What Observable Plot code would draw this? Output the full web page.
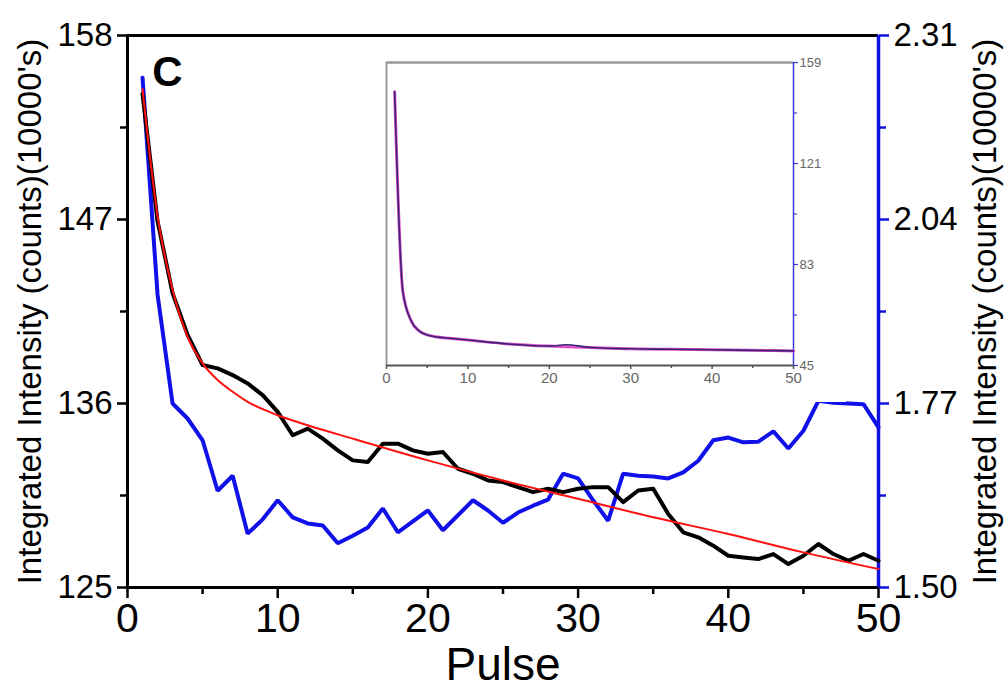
<!DOCTYPE html>
<html>
<head>
<meta charset="utf-8">
<script src="https://cdn.jsdelivr.net/npm/d3@7"></script>
<script src="https://cdn.jsdelivr.net/npm/@observablehq/plot@0.6"></script>
<style>
  body { margin: 0; background: #fff; }
  #wrap { position: relative; width: 1007px; height: 691px; overflow: hidden; }
  #inset { position: absolute; left: 376px; top: 52px; }
</style>
</head>
<body>
<div id="wrap"><div id="main"></div><div id="inset"></div></div>
<script>
// ---- data ----
const pulse = [1,2,3,4,5,6,7,8,9,10,11,12,13,14,15,16,17,18,19,20,21,22,23,24,25,26,27,28,29,30,31,32,33,34,35,36,37,38,39,40,41,42,43,44,45,46,47,48,49,50];
const blackLeft = [154.5,146.9,142.6,140.1,138.3,138.1,137.7,137.2,136.5,135.5,134.1,134.5,133.9,133.2,132.6,132.5,133.6,133.6,133.2,133.0,133.1,132.1,131.8,131.4,131.3,131.0,130.7,130.9,130.7,130.9,131.0,131.0,130.1,130.8,130.9,129.4,128.3,128.0,127.5,126.9,126.8,126.7,127.0,126.4,126.9,127.6,127.0,126.6,127.0,126.6];
const blueRight = [2.248,1.93,1.77,1.748,1.716,1.642,1.664,1.579,1.60,1.628,1.603,1.594,1.591,1.565,1.576,1.588,1.616,1.581,1.597,1.613,1.584,1.606,1.628,1.613,1.595,1.61,1.62,1.629,1.667,1.66,1.628,1.598,1.667,1.664,1.663,1.66,1.669,1.686,1.716,1.72,1.713,1.714,1.729,1.704,1.73,1.774,1.771,1.77,1.769,1.735];
const fitPulse = [1,2,3,4,5,6,7,8,10,12,15,20,25,30,35,40,45,50];
const fitLeft = [154.8,147.2,142.8,140.0,138.4,137.4,136.7,136.1,135.3,134.7,133.9,132.6,131.4,130.3,129.2,128.2,127.1,126.1];

const insetPulse = [1,2,3,4,5,6,8,10,15,20,22,25,30,35,40,45,50];
const insetPink = [148,73,62,58,56.5,55.8,55.2,54.6,53.1,52.3,52.1,51.8,51.3,51.1,50.9,50.7,50.5];
const insetBlue = [148,73,62,58,56.5,55.8,55.2,54.6,53.1,52.3,52.8,51.8,51.3,51.1,50.9,50.7,50.5];

const xTicks = [0,10,20,30,40,50];
const xMinor = [5,15,25,35,45];
const leftTicks = [125,136,147,158];
const leftMinor = [130.5,141.5,152.5];
const rightTicks = [1.50,1.77,2.04,2.31];
const rightMinor = [1.635,1.905,2.175];
const insetYTicks = [45,83,121,159];
const insetYMinor = [64,102,140];
const yTitle = "Integrated Intensity (counts)(10000's)";

// ---- scale helpers ----
const L0 = 125, L1 = 158, R0 = 1.50, R1 = 2.31;
const toLeft = v => L0 + (v - R0) / (R1 - R0) * (L1 - L0);
const toRight = v => R0 + (v - L0) / (L1 - L0) * (R1 - R0);

const black = pulse.map((p, i) => ({p, v: blackLeft[i]}));
const blue = pulse.map((p, i) => ({p, v: toLeft(blueRight[i])}));
const fit = fitPulse.map((p, i) => ({p, v: fitLeft[i]}));

const font = "'Liberation Sans', Arial, Helvetica, sans-serif";

const main = Plot.plot({
  width: 1007, height: 691,
  marginLeft: 127, marginRight: 129, marginTop: 35, marginBottom: 104,
  style: {fontFamily: font, background: "white", color: "black"},
  x: {domain: [0, 50], label: null},
  y: {domain: [L0, L1], label: null},
  marks: [
    Plot.axisX({ticks: xTicks, tickSize: 11, tickPadding: 4, fontSize: 41, label: null, strokeWidth: 2.5}),
    Plot.axisX({ticks: xMinor, tickSize: 7, text: null, label: null, strokeWidth: 2.5}),
    Plot.axisY({anchor: "left", ticks: leftTicks, tickSize: 10, tickPadding: 5, fontSize: 33, label: null, strokeWidth: 2.5}),
    Plot.axisY({anchor: "left", ticks: leftMinor, tickSize: 7, text: null, label: null, strokeWidth: 2.5}),
    Plot.axisY({anchor: "right", ticks: rightTicks.map(toLeft), tickFormat: d => toRight(d).toFixed(2), tickSize: 10, tickPadding: 5, fontSize: 33, label: null, stroke: "#1010e0", fill: "black", strokeWidth: 2.5}),
    Plot.axisY({anchor: "right", ticks: rightMinor.map(toLeft), tickSize: 7, text: null, label: null, stroke: "#1010e0", strokeWidth: 2.5}),
    Plot.ruleY([L1], {stroke: "black", strokeWidth: 3}),
    Plot.ruleY([L0], {stroke: "black", strokeWidth: 3}),
    Plot.ruleX([0], {stroke: "black", strokeWidth: 3}),
    Plot.ruleX([50], {stroke: "#1010e0", strokeWidth: 3.5}),
    Plot.line(blue, {x: "p", y: "v", stroke: "#1010e8", strokeWidth: 4, strokeLinejoin: "miter"}),
    Plot.line(black, {x: "p", y: "v", stroke: "black", strokeWidth: 4}),
    Plot.line(fit, {x: "p", y: "v", stroke: "#ff1010", strokeWidth: 2, curve: "monotone-x"}),
    Plot.text(["C"], {frameAnchor: "top-left", dx: 40, dy: 37, fontSize: 42, fontWeight: "bold", textAnchor: "middle", lineAnchor: "middle"}),
    Plot.text([yTitle], {frameAnchor: "left", dx: -97, rotate: -90, fontSize: 33, textAnchor: "middle", lineAnchor: "middle"}),
    Plot.text([yTitle], {frameAnchor: "right", dx: 107, rotate: -90, fontSize: 33, textAnchor: "middle", lineAnchor: "middle"}),
    Plot.text(["Pulse"], {frameAnchor: "bottom", dy: 78, fontSize: 46, textAnchor: "middle", lineAnchor: "middle"})
  ]
});
document.getElementById("main").appendChild(main);

const ip = insetPulse.map((p, i) => ({p, v: insetPink[i]}));
const ib = insetPulse.map((p, i) => ({p, v: insetBlue[i]}));

const inset = Plot.plot({
  width: 470, height: 350,
  marginLeft: 10, marginRight: 53, marginTop: 10, marginBottom: 37,
  style: {fontFamily: font, background: "white", color: "#555"},
  x: {domain: [0, 50], label: null},
  y: {domain: [45, 159], label: null},
  marks: [
    Plot.axisX({ticks: xTicks, tickSize: 4, tickPadding: 3, fontSize: 15, label: null, stroke: "#555", fill: "#666", strokeWidth: 1.5}),
    Plot.axisX({ticks: xMinor, tickSize: 3, text: null, label: null, stroke: "#555", strokeWidth: 1.5}),
    Plot.axisY({anchor: "right", ticks: insetYTicks, tickSize: 4, tickPadding: 2, fontSize: 13, label: null, stroke: "#3a3ad8", fill: "#666", strokeWidth: 1.2}),
    Plot.axisY({anchor: "right", ticks: insetYMinor, tickSize: 3, text: null, label: null, stroke: "#3a3ad8", strokeWidth: 1.2}),
    Plot.ruleY([159], {stroke: "#999", strokeWidth: 2.5}),
    Plot.ruleX([0], {stroke: "#999", strokeWidth: 2}),
    Plot.ruleY([45], {stroke: "#555", strokeWidth: 2}),
    Plot.ruleX([50], {stroke: "#3a3ad8", strokeWidth: 1.5}),
    Plot.line(ip, {x: "p", y: "v", stroke: "#e050c8", strokeWidth: 3, curve: "monotone-x"}),
    Plot.line(ib, {x: "p", y: "v", stroke: "#3a2378", strokeWidth: 1.6, curve: "monotone-x"})
  ]
});
document.getElementById("inset").appendChild(inset);
</script>
</body>
</html>
